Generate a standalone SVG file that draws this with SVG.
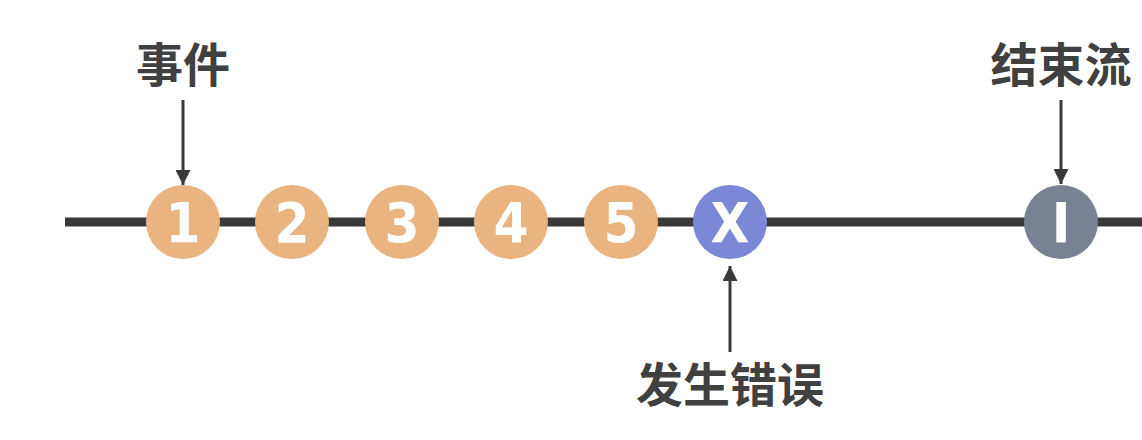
<svg xmlns="http://www.w3.org/2000/svg" width="1142" height="440" viewBox="0 0 1142 440">
<style>
.lbl{font-family:"Noto Sans CJK SC","Noto Sans",sans-serif;font-weight:bold;font-size:47px;fill:#404040;text-anchor:middle}
.num{font-family:"DejaVu Sans Condensed","Liberation Sans",sans-serif;font-weight:bold;font-size:56px;fill:#ffffff;text-anchor:middle}
.ev{fill:#E9B47F}
.err{fill:#7B88D6}
.end{fill:#788293}
.conn{stroke:#3a3a3a;stroke-width:3;fill:none}
</style>
<defs>
<marker id="ah" viewBox="0 0 10 10" refX="10" refY="5" markerWidth="5" markerHeight="5" orient="auto" markerUnits="strokeWidth">
<path d="M0,0 L10,5 L0,10 z" fill="#3a3a3a"/>
</marker>
</defs>
<rect width="1142" height="440" fill="#ffffff"/>
<g id="connectors">
<line x1="65" y1="222" x2="1142" y2="222" stroke="#3a3a3a" stroke-width="9"/>
<line class="conn" x1="183" y1="100" x2="183" y2="185" marker-end="url(#ah)"/>
<line class="conn" x1="730" y1="352" x2="730" y2="266" marker-end="url(#ah)"/>
<line class="conn" x1="1061" y1="100" x2="1061" y2="184" marker-end="url(#ah)"/>
</g>
<g id="label-event"><text class="lbl" x="183" y="82">事件</text></g>
<g id="label-end"><text class="lbl" x="1061" y="82">结束流</text></g>
<g id="label-error"><text class="lbl" x="730" y="402">发生错误</text></g>
<g id="n1"><circle class="ev" cx="183" cy="222" r="37"/><text class="num" x="183" y="242">1</text></g>
<g id="n2"><circle class="ev" cx="292" cy="222" r="37"/><text class="num" x="292" y="242">2</text></g>
<g id="n3"><circle class="ev" cx="402" cy="222" r="37"/><text class="num" x="402" y="242">3</text></g>
<g id="n4"><circle class="ev" cx="511" cy="222" r="37"/><text class="num" x="511" y="242">4</text></g>
<g id="n5"><circle class="ev" cx="621" cy="222" r="37"/><text class="num" x="621" y="242">5</text></g>
<g id="nx"><circle class="err" cx="730" cy="222" r="37"/><text class="num" x="730" y="242">X</text></g>
<g id="nend"><circle class="end" cx="1061" cy="222" r="37"/><text class="num" x="1061" y="242">I</text></g>
</svg>
